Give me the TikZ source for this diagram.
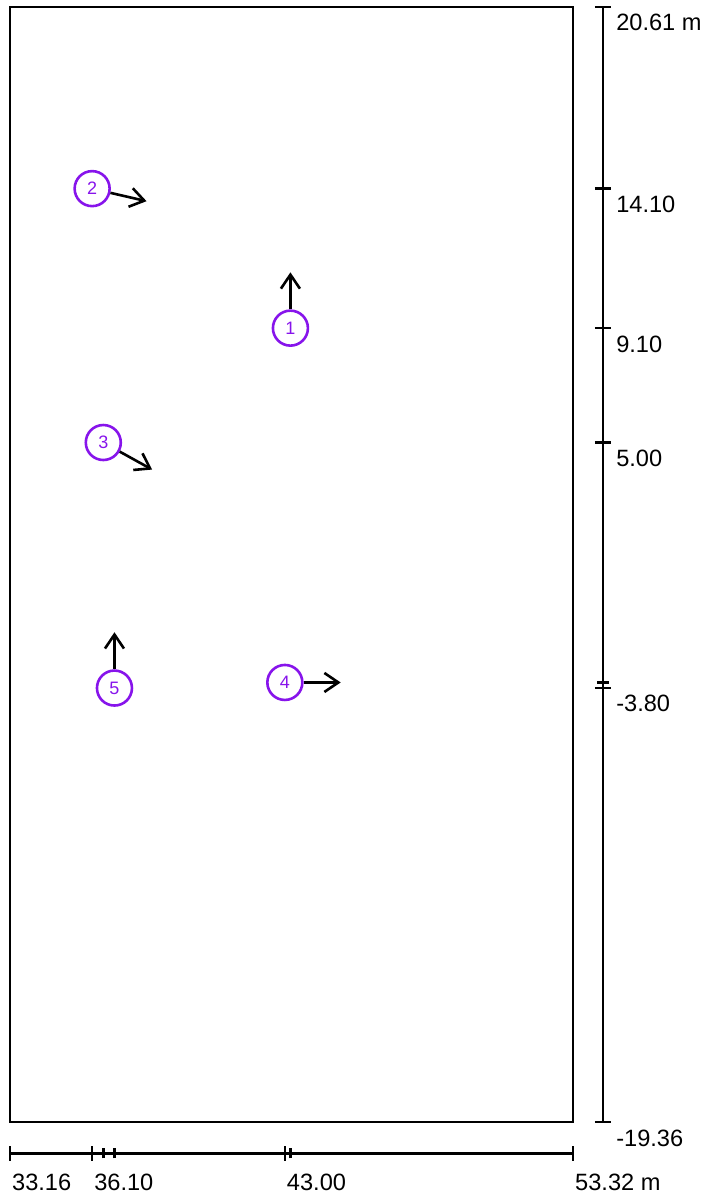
\documentclass[tikz,border=0pt]{standalone}
\usepackage{fontspec}
\setmainfont{Liberation Sans}
\usetikzlibrary{arrows.meta}
\definecolor{ptcol}{RGB}{135,20,235}

\begin{document}
\begin{tikzpicture}[x=13.965bp,y=13.95bp,line width=1.3bp,
  font=\fontsize{11.8bp}{13bp}\selectfont,
  pt/.style={circle,draw=ptcol,text=ptcol,minimum size=17.5bp,inner sep=0pt,
    font=\fontsize{9bp}{10bp}\selectfont},
  dirarrow/.style={-{Straight Barb[length=7bp,width=9.5bp]}},
  lbl/.style={inner sep=0pt,anchor=north west}]
  \useasboundingbox (32.802,-21.971) rectangle (58.115,20.861);
  \draw (33.16,-19.36) rectangle (53.32,20.61);
  \def\ax{54.39}
  \def\bx{-20.476}
  % vertical scale
  \draw (\ax,-19.36) -- (\ax,20.61);
  \foreach \v/\t [count=\i] in {20.61/20.61 m,14.10/14.10,9.10/9.10,5.00/5.00,-3.80/-3.80,-19.36/-19.36} {
    \draw (\ax-0.29,\v) -- (\ax+0.29,\v);
    \node[lbl] (yl\i) at (54.82,\v-0.22) {\t};
  }
  \draw (\ax-0.2,-3.6) -- (\ax+0.2,-3.6);
  % horizontal scale
  \draw (33.16,\bx) -- (53.32,\bx);
  \foreach \h/\t [count=\i] in {33.16/33.16,36.10/36.10,43.00/43.00,53.32/53.32 m} {
    \draw (\h,\bx-0.27) -- (\h,\bx+0.27);
    \node[lbl] (xl\i) at (\h+0.03,\bx-0.7) {\t};
  }
  \foreach \h in {36.5,36.9,43.2}
    \draw (\h,\bx-0.18) -- (\h,\bx+0.18);
  % points and directions
  \foreach \x/\y/\a [count=\i] in {43.2/9.10/90,36.10/14.10/-13,36.5/5.00/-29,43.00/-3.6/0,36.9/-3.80/90} {
    \node[pt] (p\i) at (\x,\y) {\i};
    \coordinate (t\i) at ([shift={(\a:2)}]p\i.center);
    \draw[dirarrow] (p\i) -- (t\i);
  }
\end{tikzpicture}
\end{document}
